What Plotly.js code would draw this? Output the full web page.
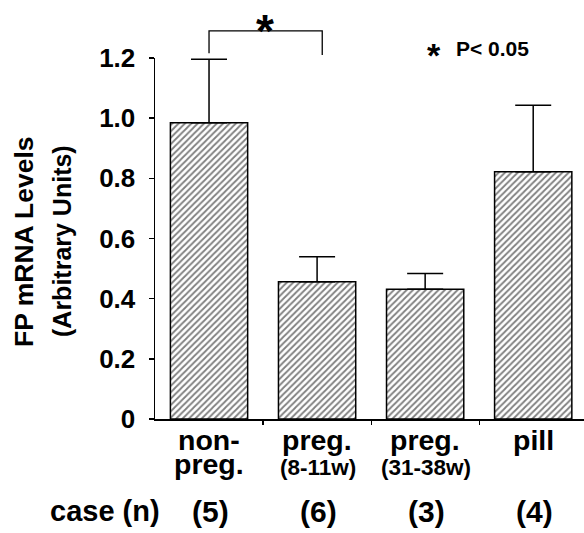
<!DOCTYPE html>
<html>
<head>
<meta charset="utf-8">
<script src="https://cdn.plot.ly/plotly-3.0.1.min.js"></script>
<style>html,body{margin:0;padding:0;background:#fff;}#chart{width:584px;height:533px;}</style>
</head>
<body>
<div id="chart"></div>
<script>
// ---- data ----
const categories = ["non-preg.", "preg. (8-11w)", "preg. (31-38w)", "pill"];
const labelLine1 = ["non-", "preg.", "preg.", "pill"];
const labelLine2 = ["preg.", "(8-11w)", "(31-38w)", ""];
const caseCounts = ["(5)", "(6)", "(3)", "(4)"];
const meanValues = [0.985, 0.456, 0.431, 0.822];
const errorValues = [0.211, 0.083, 0.053, 0.221];
const yTickVals = [0, 0.2, 0.4, 0.6, 0.8, 1.0, 1.2];
const yTickText = ["0", "0.2", "0.4", "0.6", "0.8", "1.0", "1.2"];
const yTitle1 = "FP mRNA Levels";
const yTitle2 = "(Arbitrary Units)";
const caseLabel = "case (n)";
const sigLabel = "P< 0.05";
const sigPair = [0, 1];

// ---- layout helpers ----
const W = 584, H = 533, ML = 155, MR = 0, MT = 58, MB = 114;
const XMIN = -0.5, XMAX = 3.47, YMIN = 0, YMAX = 1.2;
const PW = W - ML - MR, PH = H - MT - MB;
const pxX = px => (px - ML) / PW;
const pxY = py => (H - MB - py) / PH;
const catX = i => (i - XMIN) / (XMAX - XMIN);
const valY = v => (v - YMIN) / (YMAX - YMIN);
const FONT = "Liberation Sans, Arial, Helvetica, sans-serif";
const f = (size) => ({family: FONT, size: size, color: "#000", weight: "bold"});

const idx = categories.map((_, i) => i);

const trace = {
  type: "bar",
  x: idx,
  y: meanValues,
  width: 0.715,
  marker: {
    color: "#fff",
    line: {color: "#000", width: 1.5},
    pattern: {shape: "/", fgcolor: "#000", bgcolor: "#fff", size: 4.5, solidity: 0.4, fillmode: "overlay"}
  },
  error_y: {type: "data", array: errorValues, symmetric: false, arrayminus: errorValues.map(() => 0),
            color: "#000", thickness: 1.5, width: 18},
  hoverinfo: "skip"
};

const annotations = [];
idx.forEach(i => {
  annotations.push({xref: "paper", yref: "paper", x: catX(i), y: pxY(440), text: labelLine1[i],
    showarrow: false, xanchor: "center", yanchor: "middle", font: f(28.5)});
  if (labelLine2[i]) {
    const big = i === 0;
    annotations.push({xref: "paper", yref: "paper", x: catX(i) + (big ? 0 : 0.003), y: pxY(big ? 464 : 467),
      text: labelLine2[i], showarrow: false, xanchor: "center", yanchor: "middle", font: f(big ? 28.5 : 22.5)});
  }
  annotations.push({xref: "paper", yref: "paper", x: catX(i) + 0.003, y: pxY(511), text: caseCounts[i],
    showarrow: false, xanchor: "center", yanchor: "middle", font: f(30)});
});
annotations.push({xref: "paper", yref: "paper", x: pxX(104.5), y: pxY(511), text: caseLabel,
  showarrow: false, xanchor: "center", yanchor: "middle", font: f(29)});
annotations.push({xref: "paper", yref: "paper", x: pxX(24), y: pxY(242), text: yTitle1, textangle: -90,
  showarrow: false, xanchor: "center", yanchor: "middle", font: f(26.5)});
annotations.push({xref: "paper", yref: "paper", x: pxX(62), y: pxY(241), text: yTitle2, textangle: -90,
  showarrow: false, xanchor: "center", yanchor: "middle", font: f(25)});
// significance
const bracketTop = 1.29;
annotations.push({xref: "paper", yref: "paper", x: (catX(sigPair[0]) + catX(sigPair[1]) + 0.01) / 2, y: pxY(31),
  text: "*", showarrow: false, xanchor: "center", yanchor: "middle", font: f(46)});
annotations.push({xref: "paper", yref: "paper", x: pxX(434), y: pxY(55), text: "*",
  showarrow: false, xanchor: "center", yanchor: "middle", font: f(34)});
annotations.push({xref: "paper", yref: "paper", x: pxX(454), y: pxY(48), text: sigLabel,
  showarrow: false, xanchor: "left", yanchor: "middle", font: f(21)});

const leftX = catX(sigPair[0]);
const rightX = catX(sigPair[1]) + 0.012;
const shapes = [{
  type: "path", xref: "paper", yref: "paper",
  path: `M ${leftX} ${valY(meanValues[sigPair[0]] + errorValues[sigPair[0]] + 0.02)} L ${leftX} ${valY(bracketTop)} L ${rightX} ${valY(bracketTop)} L ${rightX} ${valY(1.21)}`,
  line: {color: "#000", width: 1.3}
}];

const layout = {
  width: W, height: H,
  margin: {l: ML, r: MR, t: MT, b: MB, pad: 0},
  paper_bgcolor: "#fff", plot_bgcolor: "#fff",
  showlegend: false,
  bargap: 0.28,
  xaxis: {range: [XMIN, XMAX], showline: true, linecolor: "#000", linewidth: 1.5,
          ticks: "outside", ticklen: 4, tickwidth: 1.2, tickcolor: "#000",
          tickvals: [0.5, 1.5, 2.5], showticklabels: false, showgrid: false, zeroline: false, fixedrange: true},
  yaxis: {range: [YMIN, YMAX], showline: true, linecolor: "#000", linewidth: 1.5,
          ticks: "outside", ticklen: 5, tickwidth: 1.5, tickcolor: "#000",
          tickvals: yTickVals, ticktext: yTickText, tickfont: f(26), ticklabelstandoff: 8,
          showgrid: false, zeroline: false, fixedrange: true},
  annotations: annotations,
  shapes: shapes
};

Plotly.newPlot("chart", [trace], layout, {staticPlot: true, displayModeBar: false});
</script>
</body>
</html>
